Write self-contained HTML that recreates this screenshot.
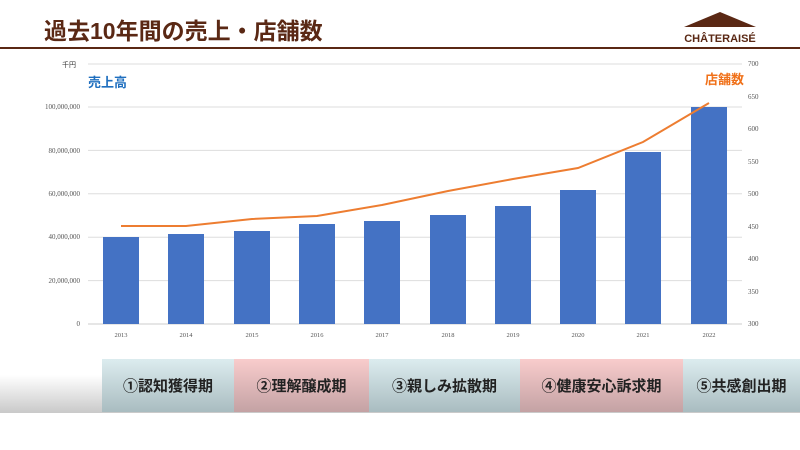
<!DOCTYPE html>
<html><head><meta charset="utf-8"><style>
body{margin:0;width:800px;height:450px;background:#fff;overflow:hidden;position:relative;font-family:"Liberation Sans","Noto Sans CJK JP",sans-serif}
.t{position:absolute;left:44px;top:12px;font-size:23px;font-weight:bold;color:#5a2814;letter-spacing:0px}
.rule{position:absolute;left:0;top:47px;width:800px;height:2px;background:#5a2814}
.band{position:absolute;top:375px;left:0;width:800px;height:38px;background:linear-gradient(#fff,#c9c9c9);}
.b{position:absolute;top:359px;height:53px;display:flex;align-items:center;justify-content:center;font-size:15px;font-weight:bold;color:#222}
</style></head><body>
<div class="t">過去10年間の売上・店舗数</div>
<svg style="position:absolute;left:680px;top:10px" width="80" height="36">
<polygon points="40,2 76,17 4,17" fill="#5a2814"/>
<text x="40" y="32" text-anchor="middle" font-size="11" font-weight="bold" fill="#5a2814" font-family="Liberation Sans">CHÂTERAISÉ</text>
</svg>
<div class="rule"></div>
<svg style="position:absolute;left:0;top:0" width="800" height="450" font-family="Liberation Serif" font-size="7" fill="#555">
<g stroke="#ddd" stroke-width="1">
<line x1="88" x2="742" y1="64" y2="64"/><line x1="88" x2="742" y1="107" y2="107"/><line x1="88" x2="742" y1="150.4" y2="150.4"/><line x1="88" x2="742" y1="193.8" y2="193.8"/><line x1="88" x2="742" y1="237.2" y2="237.2"/><line x1="88" x2="742" y1="280.6" y2="280.6"/><line x1="88" x2="742" y1="324" y2="324" stroke="#ccc"/>
</g>
<g text-anchor="end">
<text x="80" y="109">100,000,000</text><text x="80" y="153">80,000,000</text><text x="80" y="196">60,000,000</text><text x="80" y="239">40,000,000</text><text x="80" y="283">20,000,000</text><text x="80" y="326">0</text>
</g>
<g>
<text x="748" y="66">700</text><text x="748" y="99">650</text><text x="748" y="131">600</text><text x="748" y="164">550</text><text x="748" y="196">500</text><text x="748" y="229">450</text><text x="748" y="261">400</text><text x="748" y="294">350</text><text x="748" y="326">300</text>
</g>
<text x="62" y="67" font-family="Noto Sans CJK JP" font-size="7" fill="#333">千円</text>
<text x="88" y="87" font-family="Noto Sans CJK JP" font-size="13" font-weight="bold" fill="#1f6fbf">売上高</text>
<text x="744" y="84" text-anchor="end" font-family="Noto Sans CJK JP" font-size="13" font-weight="bold" fill="#f07018">店舗数</text>
<g fill="#4472c4">
<rect x="103" y="237" width="36" height="87"/><rect x="168" y="234" width="36" height="90"/><rect x="234" y="231" width="36" height="93"/><rect x="299" y="224" width="36" height="100"/><rect x="364" y="221" width="36" height="103"/><rect x="430" y="215" width="36" height="109"/><rect x="495" y="206" width="36" height="118"/><rect x="560" y="190" width="36" height="134"/><rect x="625" y="152" width="36" height="172"/><rect x="691" y="107" width="36" height="217"/>
</g>
<polyline fill="none" stroke="#ed7d31" stroke-width="2" points="121,226 186,226 252,219 317,216 382,205 448,191 513,179 578,168 643,142 709,103"/>
<g text-anchor="middle" font-size="6.5">
<text x="121" y="337">2013</text><text x="186" y="337">2014</text><text x="252" y="337">2015</text><text x="317" y="337">2016</text><text x="382" y="337">2017</text><text x="448" y="337">2018</text><text x="513" y="337">2019</text><text x="578" y="337">2020</text><text x="643" y="337">2021</text><text x="709" y="337">2022</text>
</g>
</svg>
<div class="band"></div>
<div class="b" style="left:102px;width:132px;background:linear-gradient(#dcecef,#a9bcc0)">①認知獲得期</div>
<div class="b" style="left:234px;width:135px;background:linear-gradient(#f9cccc,#c4a2a4)">②理解醸成期</div>
<div class="b" style="left:369px;width:151px;background:linear-gradient(#dcecef,#a9bcc0)">③親しみ拡散期</div>
<div class="b" style="left:520px;width:163px;background:linear-gradient(#f9cccc,#c4a2a4)">④健康安心訴求期</div>
<div class="b" style="left:683px;width:117px;background:linear-gradient(#dcecef,#a9bcc0)">⑤共感創出期</div>
</body></html>
